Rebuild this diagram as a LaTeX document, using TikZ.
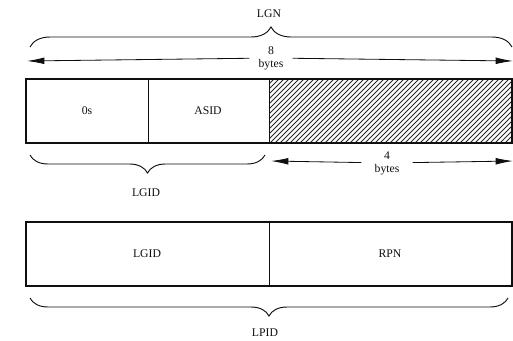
\documentclass[tikz,border=0pt]{standalone}
\usepackage{tikz}
\usepackage{xcolor}
\usepackage{fontspec}
\setmainfont{Liberation Serif}
\usetikzlibrary{arrows.meta,decorations.pathreplacing}
\definecolor{inkBlack}{RGB}{15,15,15}
\definecolor{hatchGray}{RGB}{40,40,40}
\newcommand{\bytelabel}[1]{#1\\[-1pt]bytes}

\begin{document}
\begin{tikzpicture}[x=0.03cm,y=-0.03cm,
  frame/.style={draw=inkBlack,line width=1.3pt},
  divider/.style={draw=inkBlack,line width=0.8pt},
  dimarrow/.style={-{Latex[length=0.52cm,width=0.2cm]},draw=inkBlack,line width=0.7pt},
  dimtext/.style={font=\normalsize,align=center,inner sep=0pt,text=inkBlack},
  fieldtext/.style={font=\normalsize,text=inkBlack},
  bracket/.style={decorate,decoration={brace,amplitude=#1},draw=inkBlack,line width=0.8pt}]
\useasboundingbox (0,0) rectangle (513,340);
% LGN row
\node[fieldtext] (lgn) at (269,14) {LGN};
\draw[bracket=0.6cm] (30,47) -- (512,47);
\coordinate (eightL) at (27,61);
\coordinate (eightR) at (513,61);
\node[dimtext,minimum width=1.29cm] (eight) at (271,58) {\bytelabel{8}};
\draw[dimarrow] (eight) -- (eightL);
\draw[dimarrow] (eight) -- (eightR);
\begin{scope}
\clip (269,79) rectangle (512,143);
\foreach \k in {0,5,...,310}
  \draw[hatchGray,line width=0.7pt] (269+\k-64,143) -- (269+\k,79);
\end{scope}
\draw[frame] (26,79) rectangle (512,143);
\draw[divider] (148,79) -- (148,143);
\draw[divider] (269,79) -- (269,143);
\node[fieldtext] (zeros) at (87,111) {0s};
\node[fieldtext] (asid) at (208,111) {ASID};
% LGID brace and 4 bytes
\draw[bracket=0.54cm] (265,155) -- (30,155);
\node[fieldtext] (lgidlbl) at (146,193) {LGID};
\coordinate (fourL) at (271,161);
\coordinate (fourR) at (513,161);
\node[dimtext,minimum width=1.53cm] (four) at (387,163) {\bytelabel{4}};
\draw[dimarrow] (four) -- (fourL);
\draw[dimarrow] (four) -- (fourR);
% LPID row
\draw[frame] (26,222) rectangle (512,286);
\draw[divider] (269,222) -- (269,286);
\node[fieldtext] (lgid) at (147,254) {LGID};
\node[fieldtext] (rpn) at (390,254) {RPN};
\draw[bracket=0.54cm] (508,298) -- (30,298);
\node[fieldtext] (lpid) at (265,333) {LPID};
\end{tikzpicture}
\end{document}
